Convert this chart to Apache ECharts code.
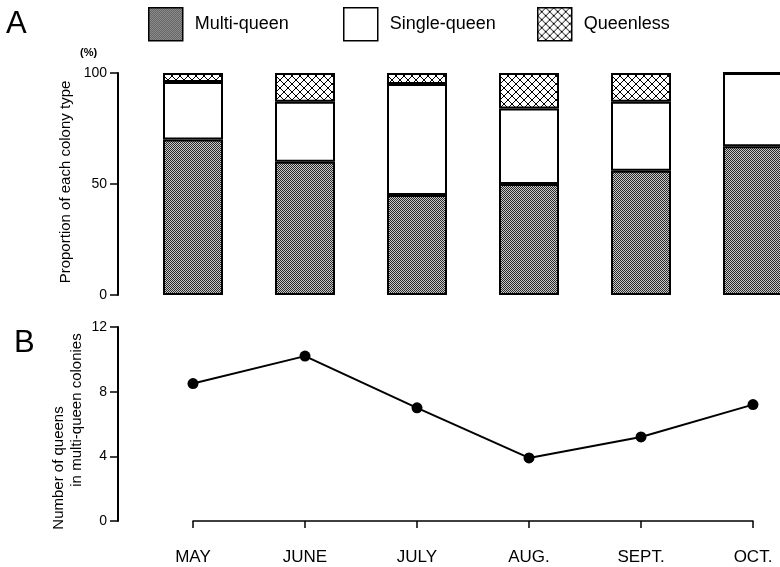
<!DOCTYPE html>
<html><head><meta charset="utf-8">
<script src="https://cdn.jsdelivr.net/npm/echarts@6/dist/echarts.min.js"></script>
<style>html,body{margin:0;padding:0;background:#fff}#c{width:780px;height:567px}</style>
</head><body><div id="c"></div>
<script>
const months = ['MAY', 'JUNE', 'JULY', 'AUG.', 'SEPT.', 'OCT.'];
const multiQueen = [70, 60, 45, 50, 56, 67];
const singleQueen = [26, 27, 50, 34, 31, 33];
const queenless = [4, 13, 5, 16, 13, 0];
const queensPerColony = [8.5, 10.2, 7.0, 3.9, 5.2, 7.2];
const pctTicks = [0, 50, 100];
const queenTicks = [0, 4, 8, 12];

function dotPattern() {
  const c = document.createElement('canvas'); c.width = 2; c.height = 2;
  const g = c.getContext('2d');
  g.fillStyle = '#c8c8c8'; g.fillRect(0, 0, 2, 2);
  g.fillStyle = '#2a2a2a'; g.fillRect(0, 0, 1, 1); g.fillRect(1, 1, 1, 1);
  return c;
}
function hatchPattern() {
  const c = document.createElement('canvas'); c.width = 8; c.height = 8;
  const g = c.getContext('2d');
  g.fillStyle = '#fff'; g.fillRect(0, 0, 8, 8);
  g.strokeStyle = '#000'; g.lineWidth = 1;
  g.beginPath(); g.moveTo(-1, -1); g.lineTo(9, 9); g.moveTo(-1, 9); g.lineTo(9, -1); g.stroke();
  return c;
}
const font = 'Liberation Sans';
const chart = echarts.init(document.getElementById('c'));
const barStyle = { borderColor: '#000', borderWidth: 2 };
const legendBase = { icon: 'rect', top: 7, padding: 0, itemWidth: 34, itemHeight: 33,
  itemStyle: { borderColor: '#000', borderWidth: 1.5 },
  textStyle: { fontSize: 18, color: '#000', padding: [0, 0, 0, 7] } };
chart.setOption({
  animation: false,
  textStyle: { fontFamily: font, color: '#000' },
  legend: [
    Object.assign({ data: ['Multi-queen'], left: 148 }, legendBase),
    Object.assign({ data: ['Single-queen'], left: 343 }, legendBase),
    Object.assign({ data: ['Queenless'], left: 537 }, legendBase)
  ],
  graphic: [
    { type: 'text', left: 6, top: 9, style: { text: 'A', font: '31px ' + font, fill: '#000' } },
    { type: 'text', left: 14, top: 328, style: { text: 'B', font: '31px ' + font, fill: '#000' } },
    { type: 'text', left: 80, top: 47, style: { text: '(%)', font: 'bold 11px ' + font, fill: '#000' } },
    { type: 'text', x: 66, y: 182, rotation: Math.PI / 2,
      style: { text: 'Proportion of each colony type', font: '15px ' + font, fill: '#000', align: 'center', verticalAlign: 'middle', textAlign: 'center', textVerticalAlign: 'middle' } },
    { type: 'text', x: 59, y: 468, rotation: Math.PI / 2,
      style: { text: 'Number of queens', font: '15px ' + font, fill: '#000', align: 'center', verticalAlign: 'middle', textAlign: 'center', textVerticalAlign: 'middle' } },
    { type: 'text', x: 77, y: 410, rotation: Math.PI / 2,
      style: { text: 'in multi-queen colonies', font: '15px ' + font, fill: '#000', align: 'center', verticalAlign: 'middle', textAlign: 'center', textVerticalAlign: 'middle' } }
  ],
  grid: [
    { left: 137, top: 73, width: 672, height: 222, outerBoundsMode: 'none', containLabel: false },
    { left: 193, top: 327, width: 560, height: 194, outerBoundsMode: 'none', containLabel: false }
  ],
  xAxis: [
    { type: 'category', gridIndex: 0, data: months, show: false },
    { type: 'category', gridIndex: 1, data: months, boundaryGap: false, offset: 16,
      axisLine: { lineStyle: { color: '#000', width: 1.5 } },
      axisTick: { length: 7, lineStyle: { color: '#000', width: 1.5 } },
      axisLabel: { fontSize: 17, color: '#000', margin: 12 } }
  ],
  yAxis: [
    { type: 'value', gridIndex: 0, min: 0, max: 100, interval: 50, offset: 19,
      axisLine: { show: true, lineStyle: { color: '#000', width: 2 } },
      axisTick: { show: true, length: 8, lineStyle: { color: '#000', width: 1.5 } },
      axisLabel: { fontSize: 14, color: '#000', margin: 11, formatter: v => pctTicks.includes(v) ? String(v) : '' },
      splitLine: { show: false } },
    { type: 'value', gridIndex: 1, min: 0, max: 12, interval: 4, offset: 75,
      axisLine: { show: true, lineStyle: { color: '#000', width: 2 } },
      axisTick: { show: true, length: 8, lineStyle: { color: '#000', width: 1.5 } },
      axisLabel: { fontSize: 14, color: '#000', margin: 11, formatter: v => queenTicks.includes(v) ? String(v) : '' },
      splitLine: { show: false } }
  ],
  series: [
    { name: 'Multi-queen', type: 'bar', stack: 'a', xAxisIndex: 0, yAxisIndex: 0, barWidth: 60, data: multiQueen,
      itemStyle: Object.assign({ color: { image: dotPattern(), repeat: 'repeat' } }, barStyle) },
    { name: 'Single-queen', type: 'bar', stack: 'a', xAxisIndex: 0, yAxisIndex: 0, barWidth: 60, data: singleQueen,
      itemStyle: Object.assign({ color: '#fff' }, barStyle) },
    { name: 'Queenless', type: 'bar', stack: 'a', xAxisIndex: 0, yAxisIndex: 0, barWidth: 60, data: queenless,
      itemStyle: Object.assign({ color: { image: hatchPattern(), repeat: 'repeat' } }, barStyle) },
    { name: 'Queens', type: 'line', xAxisIndex: 1, yAxisIndex: 1, data: queensPerColony,
      symbol: 'circle', symbolSize: 11, lineStyle: { color: '#000', width: 2 },
      itemStyle: { color: '#000' } }
  ]
});
</script></body></html>
